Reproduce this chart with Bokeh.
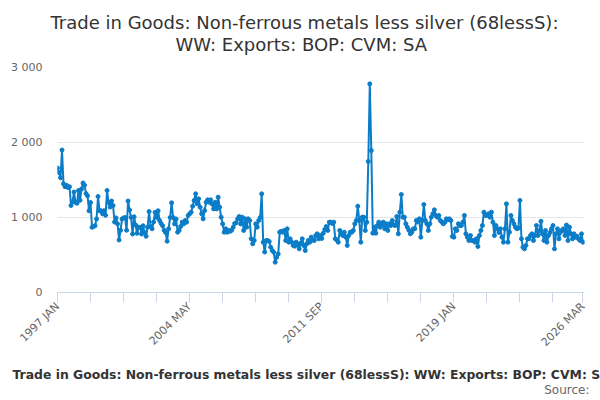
# Trade in Goods: Non-ferrous metals less silver, monthly exports (CVM, SA)
from math import pi
from bokeh.plotting import figure
from bokeh.models import Range1d, FixedTicker, Title
from bokeh.embed import file_html
from bokeh.resources import INLINE

# monthly values, 1997 JAN .. 2026 MAR
values = [
    1660, 1600, 1530, 1900, 1450, 1410, 1430, 1400, 1410, 1160, 1210, 1340,  # 1997
    1200, 1190, 1360, 1230, 1380, 1460, 1430, 1320, 1290, 1090, 1200, 870,   # 1998
    880, 890, 980, 1280, 1090, 1090, 1050, 1090, 1030, 1360, 1200, 1140,     # 1999
    1220, 1160, 940, 995, 916, 700, 830, 980, 995, 1000, 830, 1220,          # 2000
    1100, 1000, 780, 1010, 900, 790, 870, 870, 780, 890, 800, 750,           # 2001
    870, 1080, 880, 850, 940, 1070, 1000, 1090, 960, 920, 890, 830,          # 2002
    800, 684, 850, 1000, 1196, 1000, 915, 980, 804, 827, 880, 938,           # 2003
    915, 960, 938, 1027, 1049, 1071, 1150, 1227, 1316, 1182, 1249, 1138,     # 2004
    1050, 982, 1093, 1204, 1236, 1204, 1236, 1180, 1115, 1204, 1115, 1271,   # 2005
    1138, 1004, 915, 804, 849, 804, 827, 816, 830, 870, 920, 930,            # 2006
    982, 1013, 915, 1004, 827, 982, 871, 982, 960, 716, 649, 693,            # 2007
    915, 871, 960, 1000, 1316, 671, 540, 693, 693, 680, 604, 560,            # 2008
    538, 404, 471, 515, 804, 816, 804, 827, 693, 849, 671, 716,              # 2009
    671, 627, 618, 671, 640, 582, 658, 716, 627, 560, 649, 693,              # 2010
    671, 738, 700, 693, 760, 782, 716, 760, 720, 790, 840, 880,              # 2011
    827, 938, 938, 920, 938, 716, 700, 671, 827, 782, 760, 804,              # 2012
    738, 627, 760, 804, 804, 827, 916, 960, 1151, 960, 671, 1004,            # 2013
    1004, 827, 938, 1747, 2782, 1893, 791, 871, 791, 893, 938, 871,          # 2014
    900, 938, 849, 916, 827, 916, 893, 960, 900, 893, 1013, 782,             # 2015
    1071, 1307, 1004, 1004, 916, 871, 830, 782, 804, 849, 849, 960,          # 2016
    940, 982, 738, 960, 1173, 960, 916, 827, 916, 1004, 1050, 1102,          # 2017
    1027, 1004, 1027, 960, 938, 916, 938, 982, 970, 982, 960, 747,           # 2018
    738, 849, 827, 916, 893, 893, 938, 1027, 782, 738, 693, 760,             # 2019
    693, 693, 671, 716, 613, 760, 827, 893, 1071, 1027, 1030, 1049,          # 2020
    1004, 1071, 938, 760, 893, 849, 800, 849, 738, 671, 849, 1182,           # 2021
    671, 804, 1027, 960, 916, 871, 850, 860, 1227, 716, 604, 582,            # 2022
    627, 716, 716, 760, 782, 693, 760, 893, 760, 827, 950, 782,              # 2023
    693, 827, 671, 760, 800, 849, 893, 582, 782, 849, 716, 804,              # 2024
    830, 849, 760, 900, 693, 871, 782, 716, 782, 738, 750, 716,              # 2025
    693, 782, 671,                                                           # 2026
]
start_year = 1997
month_names = ["JAN", "FEB", "MAR", "APR", "MAY", "JUN",
               "JUL", "AUG", "SEP", "OCT", "NOV", "DEC"]
months = [f"{start_year + i // 12} {month_names[i % 12]}" for i in range(len(values))]

x_labels = ["1997 JAN", "2004 MAY", "2011 SEP", "2019 JAN", "2026 MAR"]
tick_step = 22  # months between small tick marks
y_ticks = [0, 1000, 2000, 3000]
y_labels = ["0", "1 000", "2 000", "3 000"]

title_lines = ["Trade in Goods: Non-ferrous metals less silver (68lessS):",
               "WW: Exports: BOP: CVM: SA"]
series_name = "Trade in Goods: Non-ferrous metals less silver (68lessS): WW: Exports: BOP: CVM: SA"

FONT = "DejaVu Sans"
BLUE = "#0b7dc8"

xs = list(range(len(values)))

p = figure(width=600, height=400, output_backend="svg", toolbar_location=None,
           x_range=Range1d(0, 351), y_range=Range1d(0, 3000),
           min_border_left=57, min_border_right=16, min_border_top=67, min_border_bottom=108)
p.outline_line_color = None
p.xgrid.grid_line_color = None
p.ygrid.grid_line_color = "#e6e6e6"

p.line(xs, values, color=BLUE, line_width=2)
p.scatter(xs, values, size=4, color=BLUE)

# x axis: labelled ticks + small ticks every 22 months
major = [months.index(m) for m in x_labels]
minor = [i for i in range(0, len(values), tick_step) if i not in major]
p.xaxis.ticker = FixedTicker(ticks=major, minor_ticks=minor)
p.xaxis.major_label_overrides = {i: m for i, m in zip(major, x_labels)}
p.xaxis.major_label_orientation = pi / 4
p.xaxis.axis_line_color = "#ccd6eb"
p.xaxis.major_tick_line_color = "#ccd6eb"
p.xaxis.minor_tick_line_color = "#ccd6eb"
p.xaxis.major_tick_in = 0
p.xaxis.major_tick_out = 10
p.xaxis.minor_tick_in = 0
p.xaxis.minor_tick_out = 10
p.xaxis.major_label_standoff = 2
p.xaxis.major_label_text_font = FONT
p.xaxis.major_label_text_font_size = "11px"
p.xaxis.major_label_text_color = "#666666"

p.yaxis.ticker = FixedTicker(ticks=y_ticks)
p.yaxis.major_label_overrides = {t: l for t, l in zip(y_ticks, y_labels)}
p.yaxis.axis_line_color = None
p.yaxis.major_tick_line_color = None
p.yaxis.minor_tick_line_color = None
p.yaxis.major_tick_out = 0
p.yaxis.major_tick_in = 0
p.yaxis.major_label_standoff = 15
p.yaxis.major_label_text_font = FONT
p.yaxis.major_label_text_font_size = "11px"
p.yaxis.major_label_text_color = "#666666"

# two-line title: the line added first sits closest to the plot
p.add_layout(Title(text=title_lines[1], align="left", offset=118, standoff=22,
                   vertical_align="top",
                   text_font=FONT, text_font_size="18px", text_font_style="normal",
                   text_color="#333333"), "above")
p.add_layout(Title(text=title_lines[0], align="left", offset=-7, standoff=-20,
                   text_font=FONT, text_font_size="18px", text_font_style="normal",
                   text_color="#333333"), "above")

# legend entry and credits below the axis
p.add_layout(Title(text=series_name, align="left", offset=-45, standoff=17,
                   text_font=FONT, text_font_size="12.4px", text_font_style="bold",
                   text_color="#333333"), "below")
p.add_layout(Title(text="Source:", align="right", offset=-5, standoff=-16,
                   vertical_align="top",
                   text_font=FONT, text_font_size="12px", text_font_style="normal",
                   text_color="#666666"), "below")

open("out.html", "w").write(file_html(p, INLINE))
